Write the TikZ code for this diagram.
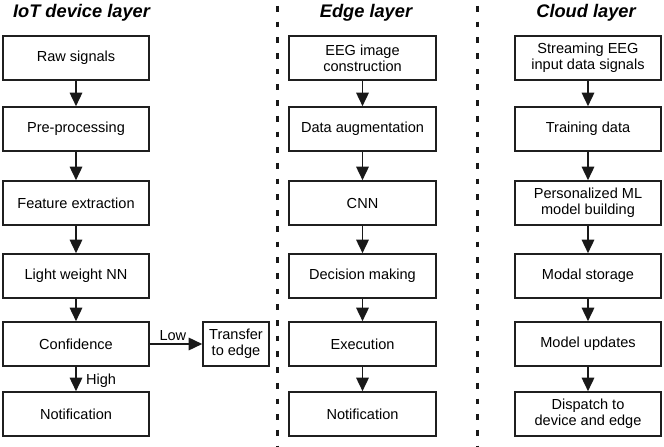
\documentclass[tikz,border=0pt]{standalone}
\usepackage{fontspec}
\setmainfont{Liberation Sans}
\usetikzlibrary{arrows.meta}
\begin{document}
\begin{tikzpicture}[x=1bp,y=-1bp,
  box/.style={draw=black!88, line width=1.6bp, rectangle, minimum width=146bp, minimum height=44bp,
    inner sep=0pt, align=center, font=\fontsize{14.6}{16.3}\selectfont},
  smallbox/.style={box, minimum width=66bp},
  arr/.style={draw=black!90, line width=1.6bp, -{Triangle[length=13.5bp,width=12.5bp]}},
  sep/.style={draw=black!90, line width=3bp, dash pattern=on 5.7bp off 10bp},
  ttl/.style={font=\fontsize{18.3}{20}\selectfont\bfseries\itshape, anchor=base},
  lbl/.style={font=\fontsize{14.6}{16}\selectfont}]
\useasboundingbox (0,0) rectangle (664,447);
% separators
\coordinate (s1a) at (277,6);
\coordinate (s1b) at (277,447);
\coordinate (s2a) at (477,6);
\coordinate (s2b) at (477,447);
\draw[sep] (s1a) -- (s1b);
\draw[sep] (s2a) -- (s2b);
% titles
\node[ttl] (t1) at (81.5,17.5) {IoT device layer};
\node[ttl] (t2) at (366,17.5) {Edge layer};
\node[ttl] (t3) at (586,17.5) {Cloud layer};
% left column
\node[box] (l1) at (76,58) {Raw signals};
\node[box] (l2) at (76,129) {Pre-processing};
\node[box] (l3) at (76,203) {Feature extraction};
\node[box] (l4) at (76,276) {Light weight NN};
\node[box] (l5) at (76,344) {Confidence};
\node[box] (l6) at (76,414) {Notification};
\node[smallbox] (tr) at (236,344) {Transfer\\to edge};
% middle column
\node[box, minimum width=147bp] (m1) at (362.5,58) {EEG image\\construction};
\node[box, minimum width=147bp] (m2) at (362.5,129) {Data augmentation};
\node[box, minimum width=147bp] (m3) at (362.5,203) {CNN};
\node[box, minimum width=147bp] (m4) at (362.5,276) {Decision making};
\node[box, minimum width=147bp] (m5) at (362.5,344) {Execution};
\node[box, minimum width=147bp] (m6) at (362.5,414) {Notification};
% right column
\node[box] (r1) at (588,58) {Streaming EEG\\input data signals};
\node[box] (r2) at (588,129) {Training data};
\node[box] (r3) at (588,203) {Personalized ML\\model building};
\node[box] (r4) at (588,276) {Modal storage};
\node[box] (r5) at (588,344) {Model updates};
\node[box] (r6) at (588,414) {Dispatch to\\device and edge};
% arrows
\foreach \c in {l,m,r}{
  \draw[arr] (\c1) -- (\c2);
  \draw[arr] (\c2) -- (\c3);
  \draw[arr] (\c3) -- (\c4);
  \draw[arr] (\c4) -- (\c5);
}
\draw[arr] (m5) -- (m6);
\draw[arr] (r5) -- (r6);
\draw[arr] (l5) -- node[lbl, right, xshift=6bp, yshift=-2bp] {High} (l6);
\draw[arr] (l5) -- node[lbl, above, pos=0.44, yshift=-1bp] {Low} (tr);
\end{tikzpicture}
\end{document}
